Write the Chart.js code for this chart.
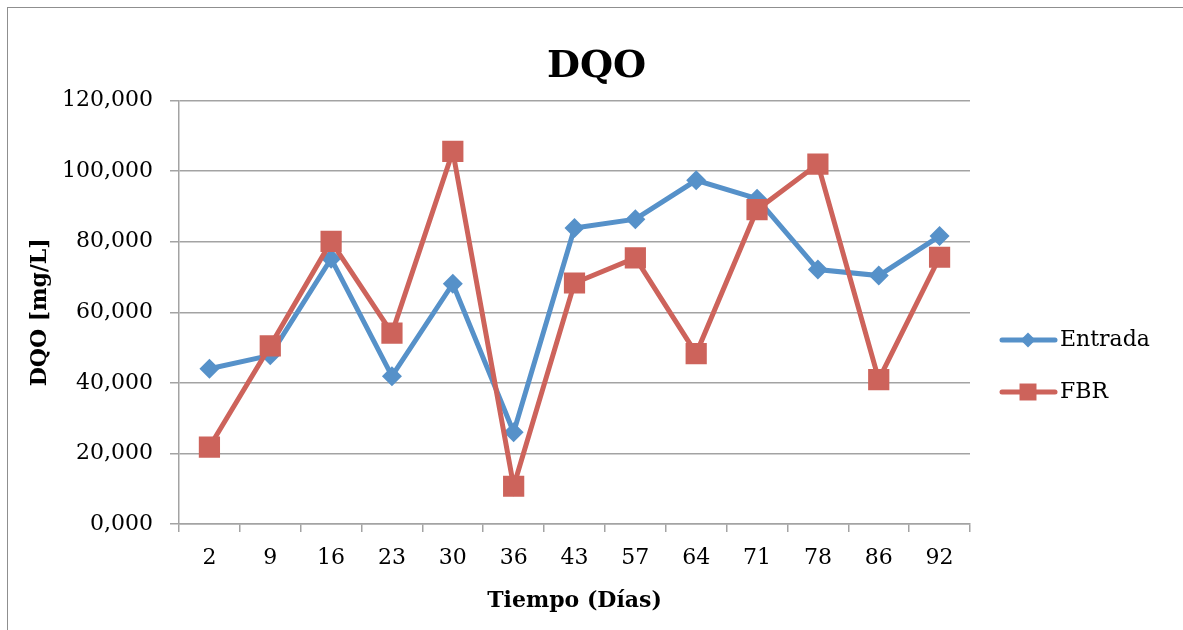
<!DOCTYPE html>
<html>
<head>
<meta charset="utf-8">
<script src="https://cdn.jsdelivr.net/npm/chart.js@4/dist/chart.umd.min.js"></script>
<style>
html, body { margin: 0; padding: 0; background: #fff; overflow: hidden; }
#wrap { position: relative; width: 1183px; height: 630px; }
</style>
</head>
<body>
<div id="wrap"><canvas id="myChart" width="1183" height="630"></canvas></div>
<script>
// days of sampling
var dias = ['2', '9', '16', '23', '30', '36', '43', '57', '64', '71', '78', '86', '92'];
// DQO [mg/L] per series
var entrada = [44.0, 47.8, 75.2, 41.9, 68.1, 26.0, 83.9, 86.4, 97.4, 92.2, 72.1, 70.4, 81.6];
var fbr = [21.8, 50.5, 80.1, 54.1, 105.6, 10.7, 68.3, 75.4, 48.3, 89.1, 102.0, 40.9, 75.6];
var yMin = 0, yMax = 120, yStep = 20;

var serif = "'DejaVu Serif', serif";
var gridColor = '#a3a3a3';
var blue = '#5691c9';
var red = '#cd635b';

// outer frame + legend (line with marker, like the spreadsheet one)
var frameAndLegend = {
    id: 'frameAndLegend',
    beforeDraw: function(chart) {
        var ctx = chart.ctx;
        ctx.save();
        ctx.strokeStyle = '#8f8f8f';
        ctx.lineWidth = 1;
        ctx.strokeRect(7.5, 7.5, 1200, 640);
        ctx.restore();
    },
    afterDraw: function(chart) {
        var ctx = chart.ctx;
        chart.data.datasets.forEach(function(ds, i) {
            var y = 340 + i * 52;
            ctx.save();
            ctx.strokeStyle = ds.borderColor;
            ctx.lineWidth = 5;
            ctx.lineCap = 'round';
            ctx.beginPath();
            ctx.moveTo(1002, y);
            ctx.lineTo(1055, y);
            ctx.stroke();
            ctx.fillStyle = ds.borderColor;
            Chart.helpers.drawPoint(ctx, {
                pointStyle: ds.pointStyle,
                radius: ds.pointStyle === 'rect' ? 12 : 7.5,
                rotation: 0,
                borderWidth: 0
            }, 1028, y);
            ctx.fillStyle = '#000';
            ctx.font = '22px ' + serif;
            ctx.textBaseline = 'middle';
            ctx.fillText(ds.label, 1060, y);
            ctx.restore();
        });
    }
};

var config = {
    type: 'line',
    data: {
        labels: dias,
        datasets: [{
            label: 'Entrada',
            data: entrada,
            borderColor: blue,
            backgroundColor: blue,
            borderWidth: 5,
            pointStyle: 'rectRot',
            pointRadius: 10,
            pointHoverRadius: 10,
            pointBorderWidth: 0,
            tension: 0,
            order: 2
        }, {
            label: 'FBR',
            data: fbr,
            borderColor: red,
            backgroundColor: red,
            borderWidth: 5,
            pointStyle: 'rect',
            pointRadius: 15,
            pointHoverRadius: 15,
            pointBorderWidth: 0,
            tension: 0,
            order: 1
        }]
    },
    options: {
        responsive: false,
        animation: false,
        layout: { padding: { left: 10, right: 0, top: 0, bottom: 0 } },
        scales: {
            x: {
                offset: true,
                grid: {
                    offset: true,
                    drawOnChartArea: false,
                    color: gridColor,
                    lineWidth: 1.5,
                    tickLength: 8
                },
                border: { color: gridColor, width: 1.5 },
                ticks: {
                    color: '#000',
                    font: { family: serif, size: 22 },
                    padding: 13,
                    maxRotation: 0
                },
                title: {
                    display: true,
                    text: 'Tiempo (Días)',
                    color: '#000',
                    font: { family: serif, size: 22, weight: 'bold' },
                    padding: { top: 4, bottom: 16 }
                },
                afterFit: function(s) { s.height = 106; }
            },
            y: {
                min: yMin,
                max: yMax,
                grid: { color: gridColor, lineWidth: 1.5, tickLength: 9 },
                border: { color: gridColor, width: 1.5 },
                ticks: {
                    stepSize: yStep,
                    color: '#000',
                    font: { family: serif, size: 22 },
                    padding: 17,
                    callback: function(v) { return v.toFixed(3).replace('.', ','); }
                },
                title: {
                    display: true,
                    text: 'DQO [mg/L]',
                    color: '#000',
                    font: { family: serif, size: 22, weight: 'bold' },
                    padding: { top: 17, bottom: 4 }
                },
                afterFit: function(s) { s.width = 169; }
            },
            // empty right-hand space where the legend sits
            legendSpace: {
                type: 'linear',
                position: 'right',
                grid: { display: false, drawTicks: false },
                border: { display: false },
                ticks: { display: false },
                afterFit: function(s) { s.width = 213; }
            }
        },
        plugins: {
            legend: { display: false },
            tooltip: { enabled: false },
            title: {
                display: true,
                text: 'DQO',
                color: '#000',
                font: { family: serif, size: 38, weight: 'bold' },
                padding: { top: 44, bottom: 11 }
            }
        }
    },
    plugins: [frameAndLegend]
};

window.myChart = new Chart(document.getElementById('myChart').getContext('2d'), config);
</script>
</body>
</html>
